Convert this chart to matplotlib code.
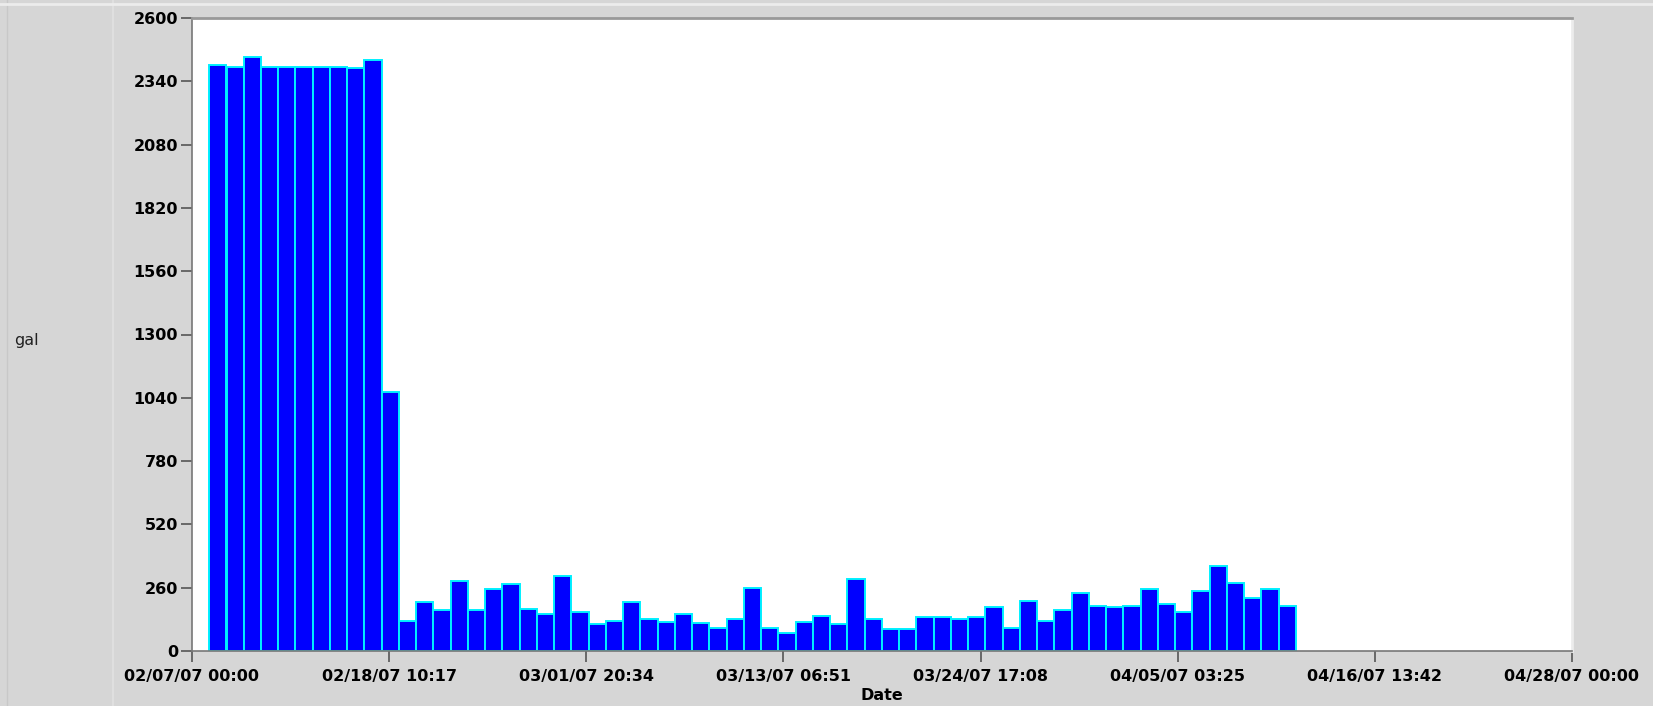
import datetime as dt
import numpy as np
import matplotlib
matplotlib.use('Agg')
import matplotlib.pyplot as plt
import matplotlib.dates as mdates
from matplotlib.lines import Line2D

# daily usage in gallons, one bar per day starting 02/08/07
start_day = dt.datetime(2007, 2, 8)
usage = [
    2407, 2400, 2438, 2398, 2398, 2398, 2398, 2398, 2393, 2426,
    1065,
    125, 201, 167, 289, 167, 253, 275, 172, 152, 309,
    159, 110, 125, 200, 130, 118, 152, 116, 96, 130, 260,
    96, 75, 118, 144, 110, 294, 130, 90, 90, 138,
    138, 130, 138, 179, 96, 207, 125, 167, 240, 186, 179,
    186, 253, 193, 159, 246, 350, 281, 219, 253, 186,
]
days = [start_day + dt.timedelta(days=i) for i in range(len(usage))]

axis_start = dt.datetime(2007, 2, 7)
axis_end = dt.datetime(2007, 4, 28)
n_ticks = 8
yticks = np.arange(0, 2601, 260)

bg = '#d6d6d6'
fig = plt.figure(figsize=(16.53, 7.06), dpi=100, facecolor=bg)
ax = fig.add_axes([192 / 1653, 1 - 651 / 706, (1572 - 192) / 1653, (651 - 18) / 706])
ax.set_facecolor('white')

ax.bar(mdates.date2num(days), usage, width=1.0, align='edge',
       color='#0000ff', edgecolor='#00f0ff', linewidth=1.4)

ax.set_xlim(mdates.date2num(axis_start), mdates.date2num(axis_end))
ax.set_ylim(0, 2600)

step = (axis_end - axis_start) / (n_ticks - 1)
xt = [axis_start + k * step for k in range(n_ticks)]
ax.set_xticks(mdates.date2num(xt))
ax.set_xticklabels([t.strftime('%m/%d/%y %H:%M') for t in xt])
ax.set_yticks(yticks)
ax.set_yticklabels([str(v) for v in yticks])

for lbl in ax.get_xticklabels() + ax.get_yticklabels():
    lbl.set_fontweight('bold')
    lbl.set_fontsize(11.5)
    lbl.set_color('#000000')

ax.tick_params(axis='both', direction='out', length=8, width=1.2, color='#555555')
ax.tick_params(axis='y', pad=2)
ax.tick_params(axis='x', pad=5)

for side in ['left', 'bottom']:
    ax.spines[side].set_color('#777777')
    ax.spines[side].set_linewidth(1.2)
ax.spines['top'].set_color('#999999')
ax.spines['right'].set_color('#ececec')
ax.spines['top'].set_linewidth(2)
ax.spines['right'].set_linewidth(2)

ax.set_xlabel('Date', fontsize=11.5, fontweight='bold', labelpad=3)
fig.text(14 / 1653, 1 - 341 / 706, 'gal', fontsize=11.5, va='center', ha='left', color='#222222')

# panel edges
fig.add_artist(Line2D([113 / 1653, 113 / 1653], [0, 1], color='#e2e2e2', linewidth=1.2))
fig.add_artist(Line2D([7 / 1653, 7 / 1653], [0, 1], color='#c8c8c8', linewidth=1))
fig.add_artist(Line2D([0, 1], [1 - 4 / 706, 1 - 4 / 706], color='#ececec', linewidth=2))

fig.savefig('out.png', dpi=100, facecolor=bg)
